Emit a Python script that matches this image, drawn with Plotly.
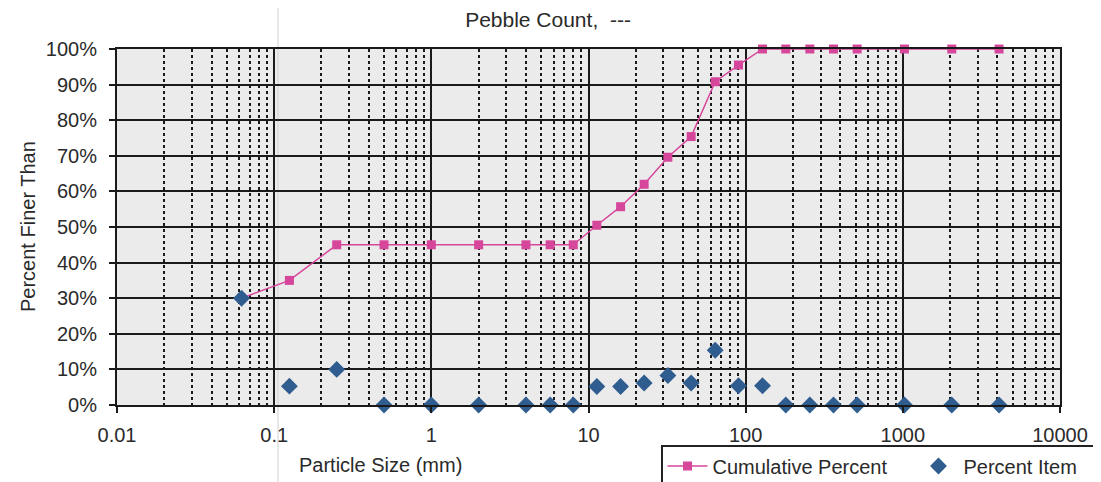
import plotly.graph_objects as go

# Particle sizes (mm)
sizes = [0.062, 0.125, 0.25, 0.5, 1, 2, 4, 5.7, 8, 11.3, 16, 22.6, 32, 45, 64, 90,
         128, 180, 256, 362, 512, 1024, 2048, 4096]
# Cumulative percent finer
cumulative = [30, 35, 45, 45, 45, 45, 45, 45, 45, 50.5, 55.7, 62, 69.6, 75.4, 90.8, 95.5,
              100, 100, 100, 100, 100, 100, 100, 100]
# Percent item
percent_item = [30, 5.3, 10, 0, 0, 0, 0, 0, 0, 5.2, 5.2, 6.2, 8.3, 6.2, 15.4, 5.4,
                5.4, 0, 0, 0, 0, 0, 0, 0]

x_tick_vals = [0.01, 0.1, 1, 10, 100, 1000, 10000]
x_tick_text = ["0.01", "0.1", "1", "10", "100", "1000", "10000"]
y_tick_vals = list(range(0, 101, 10))
y_tick_text = [f"{v}%" for v in y_tick_vals]
minor_vals = [k * 10 ** e for e in range(-2, 4) for k in range(2, 10)]

PINK = "#d6479c"
BLUE = "#2f5d8f"
GRID = "#1a1a1a"
TXT = "#2a2a2a"
FONT = "Liberation Sans, Arial, sans-serif"

# page body adds an 8px offset; figure sized to fit the window
OFF = 8
W, H = 1101 - OFF, 482 - OFF
PL, PR, PT, PB = 117, 1060, 49, 405  # plot area in window pixels
PW, PH = PR - PL, PB - PT

fig = go.Figure()
fig.add_trace(go.Scatter(
    x=sizes, y=cumulative, name="Cumulative Percent", mode="lines+markers",
    line=dict(color=PINK, width=1.5),
    marker=dict(symbol="square", size=9, color=PINK),
    cliponaxis=False,
))
fig.add_trace(go.Scatter(
    x=sizes, y=percent_item, name="Percent Item", mode="markers",
    marker=dict(symbol="diamond", size=13, color=BLUE),
    cliponaxis=False,
))

fig.update_layout(
    width=W, height=H,
    margin=dict(l=PL - OFF, r=1101 - PR, t=PT - OFF, b=482 - PB, autoexpand=False),
    paper_bgcolor="white",
    plot_bgcolor="#ebebeb",
    font=dict(family=FONT, size=20, color=TXT),
    title=dict(text="Pebble Count,  ---", x=(548 - OFF) / W, xref="container", xanchor="center",
               y=1 - (20 - OFF) / H, yref="container", yanchor="middle",
               font=dict(family=FONT, size=21, color=TXT)),
    showlegend=True,
    legend=dict(orientation="h", x=(661 - PL) / PW, xanchor="left",
                y=(PB - 445) / PH, yanchor="top", bgcolor="white",
                bordercolor="#222", borderwidth=1.5,
                font=dict(family=FONT, size=20, color=TXT),
                itemwidth=40, entrywidth=196, entrywidthmode="pixels"),
    annotations=[
        dict(text="Percent Finer Than", textangle=-90, xref="paper", yref="paper",
             x=(28 - PL) / PW, y=0.5, xanchor="center", yanchor="middle",
             showarrow=False, font=dict(family=FONT, size=20, color=TXT)),
        dict(text="Particle Size (mm)", xref="paper", yref="paper",
             x=(380 - PL) / PW, y=(PB - 465) / PH, xanchor="center", yanchor="middle",
             showarrow=False, font=dict(family=FONT, size=20, color=TXT)),
    ],
    shapes=[
        dict(type="line", xref="paper", yref="paper",
             x0=(278 - PL) / PW, x1=(278 - PL) / PW,
             y0=(PB - 482) / PH, y1=(PB - OFF) / PH,
             line=dict(color="#d0d0d0", width=1), layer="below"),
    ],
)

fig.update_xaxes(
    type="log", range=[-2, 4],
    tickmode="array", tickvals=x_tick_vals, ticktext=x_tick_text,
    showgrid=True, gridcolor=GRID, gridwidth=2,
    ticks="outside", ticklen=6, tickwidth=2, tickcolor=GRID,
    ticklabelstandoff=5,
    showline=True, linecolor=GRID, linewidth=2, mirror=True,
    zeroline=False,
    minor=dict(tickmode="array", tickvals=minor_vals, showgrid=True, gridcolor=GRID,
               griddash="3px,3px", gridwidth=2, ticks=""),
)
fig.update_yaxes(
    range=[0, 100],
    tickmode="array", tickvals=y_tick_vals, ticktext=y_tick_text,
    showgrid=True, gridcolor=GRID, gridwidth=2,
    ticks="outside", ticklen=6, tickwidth=2, tickcolor=GRID,
    ticklabelstandoff=8,
    showline=True, linecolor=GRID, linewidth=2, mirror=True,
    zeroline=False,
)

fig.write_html("out.html")
